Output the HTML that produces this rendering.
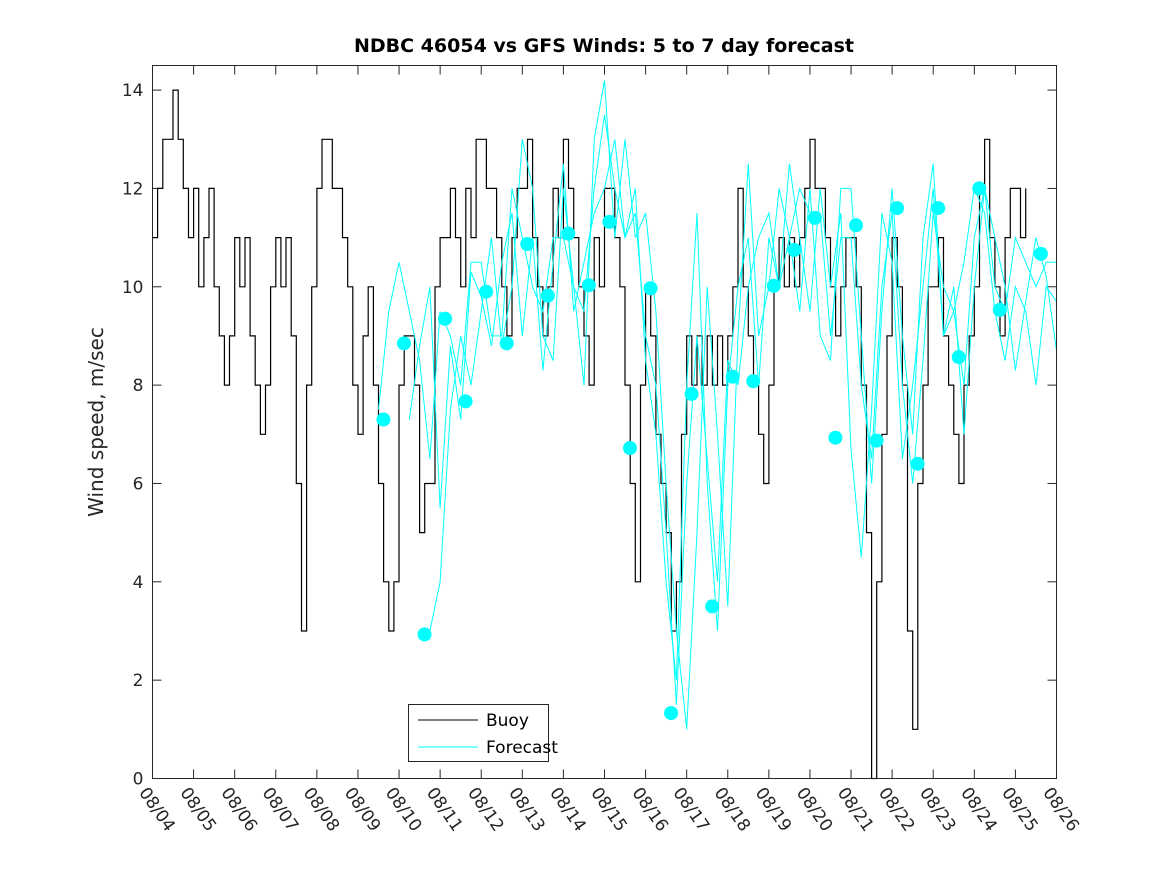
<!DOCTYPE html>
<html><head><meta charset="utf-8"><style>
body{margin:0;background:#fff;width:1167px;height:875px;overflow:hidden}
svg text{font-family:"DejaVu Sans","Liberation Sans",sans-serif;fill:#262626}
</style></head><body>
<svg id="chart" width="1167" height="875" xmlns="http://www.w3.org/2000/svg">
<rect width="1167" height="875" fill="#fff"/>
<text x="604" y="52" text-anchor="middle" font-size="19" font-weight="bold" style="fill:#000">NDBC 46054 vs GFS Winds: 5 to 7 day forecast</text>
<text transform="translate(103,422) rotate(-90)" text-anchor="middle" font-size="20">Wind speed, m/sec</text>
<g id="plot"></g>
<rect x="152.5" y="65.5" width="904" height="713" fill="none" stroke="#262626" stroke-width="1"/>
<g>
<rect x="408.5" y="704.5" width="140" height="57" fill="#fff" stroke="#262626"/>
<line x1="418" y1="720" x2="478" y2="720" stroke="#000"/>
<text x="486" y="726" font-size="17" style="fill:#000">Buoy</text>
<line x1="418" y1="747" x2="478" y2="747" stroke="#00ffff"/>
<text x="486" y="753" font-size="17" style="fill:#000">Forecast</text>
</g>
</svg>
<script>
const dayLabels=["08/04","08/05","08/06","08/07","08/08","08/09","08/10","08/11","08/12","08/13","08/14","08/15","08/16","08/17","08/18","08/19","08/20","08/21","08/22","08/23","08/24","08/25","08/26"];
const yTicks=[0,2,4,6,8,10,12,14];
// buoy, every 3 hours from 08/04 00:00
const buoy=[11,12,13,13,14,13,12,11, 12,10,11,12,10,9,8,9, 11,10,11,9,8,7,8,10, 11,10,11,9,6,3,8,10,
12,13,13,12,12,11,10,8, 7,9,10,8,6,4,3,4, 8,9,9,8,5,6,6,10, 11,11,12,11,10,12,11,13,
13,12,12,11,10,9,11,12, 12,13,11,10,9,10,12,11, 13,12,11,10,9,8,11,10, 12,12,11,10,8,6,4,8,
10,9,7,6,5,3,4,7, 9,8,9,8,9,8,9,8, 9,10,12,10,9,8,7,6, 8,10,11,10,11,10,11,12,
13,12,12,11,10,9,10,11, 11,10,8,5,0,4,7,9, 11,10,8,3,1,6,8,10, 10,11,9,8,7,6,8,9,
10,12,13,11,10,9,11,12, 12,11,12];
// forecast lines every 6 h from day 5.5
const fcA=[7.5,9.5,10.5,9.5,8.5,6.5,9.5,9,8,10.5,10.5,9,9,12,11,10,9.5,11,11,10,9.5,12,13.5,12,11,11.5,9,8,5,1.5,6,9,6.5,4,8.5,8,10,11,11.5,10,11,12,11.5,11.5,9,11,11,8,6.5,10,11.5,8,6,8.5,11.5,10,9.5,8,11,12,10,9.5,11,10.5,10,10.5,10.5];
const fcB=[null,null,null,null,null,3,4,7.5,9,8,9.5,11,8.8,10,13,12,9,8.5,12,10,8,13,14.2,11,13,11,11.5,9.5,6,3,1,5,10,7,3.5,9,12.5,9,10,12,11,9.5,12,9,8.5,12,12,9,6,9.5,12,9,7,11,12.5,9,9.5,10.5,12,11.5,9.5,8.5,10,9.5,8,10,9.7];
const fcC=[null,null,null,7.3,8.8,10,5.5,8.8,7.3,10.3,9.8,8.8,10.5,11.5,9,11,8.3,10.5,12.5,9.5,10.5,11.5,12,13,11,12,8.5,7,4,2,8,11.5,6,3,8,10,11,8,11,10,12.5,11,9.5,12,10,11.5,6.7,4.5,7.5,11.5,10.5,6.5,8,10,12,9,10,7,10,12,11,10,8.3,9.7,11,10.2,8.7];
// 12-hourly forecast markers from day 5.62
const dots=[7.3,8.85,2.93,9.35,7.67,9.9,8.85,10.87,9.82,11.08,10.03,11.32,6.72,9.97,1.33,7.82,3.5,8.17,8.08,10.02,10.75,11.4,6.93,11.25,6.87,11.6,6.4,11.6,8.57,12.0,9.53,null,10.67];
const X0=152.5,X1=1056.5,Y0=778.5,Y1=65.5;
const xs=d=>X0+(X1-X0)*d/22;
const ys=v=>Y0-(Y0-Y1)*v/14.5;
const NS="http://www.w3.org/2000/svg";
const plot=document.getElementById('plot');
function mk(t,a){const e=document.createElementNS(NS,t);for(const k in a)e.setAttribute(k,a[k]);plot.appendChild(e);return e;}
yTicks.forEach(v=>{
 const y=ys(v);
 const t=mk('line',{x1:X0,y1:y,x2:X0+9,y2:y,stroke:'#262626'});
 
 
 const t2=mk('line',{x1:X1,y1:y,x2:X1-9,y2:y,stroke:'#262626'});
 
 
 const l=mk('text',{x:X0-9,y:y+6,'text-anchor':'end','font-size':'17'});
 l.textContent=v;
 
 
});
dayLabels.forEach((s,i)=>{
 const x=xs(i);
 const t=mk('line',{x1:x,y1:Y0,x2:x,y2:Y0-9,stroke:'#262626'});
 
 
 const t2=mk('line',{x1:x,y1:Y1,x2:x,y2:Y1+9,stroke:'#262626'});
 
 
 const l=mk('text',{x:0,y:0,'font-size':'17',transform:`translate(${x-14},${Y0+14}) rotate(55)`});
 l.textContent=s;
 
 
});
function line(arr,t0,dt,col,name){
 let d='',pen=false;
 arr.forEach((v,i)=>{if(v==null){pen=false;return;}d+=(pen?'L':'M')+xs(t0+i*dt).toFixed(1)+','+ys(v).toFixed(1);pen=true;});
 const p=mk('path',{d:d,fill:'none',stroke:col,'stroke-width':'1'});
 
 
}
// buoy as step line
let bd='';
buoy.forEach((v,i)=>{const x=xs(i/8),y=ys(v);bd+=(i?'L'+x.toFixed(1)+','+ys(buoy[i-1]).toFixed(1)+'L':'M')+x.toFixed(1)+','+y.toFixed(1);});
const bp=mk('path',{d:bd,fill:'none',stroke:'#000','stroke-width':'1.2'});


line(fcA,5.5,0.25,'#00ffff','forecast-line-a');
line(fcB,5.5,0.25,'#00ffff','forecast-line-b');
line(fcC,5.5,0.25,'#00ffff','forecast-line-c');
dots.forEach((v,i)=>{if(v==null)return;
 const c=mk('circle',{cx:xs(5.62+0.5*i),cy:ys(v),r:7,fill:'#00ffff'});
 
 
});
</script>
</body></html>
